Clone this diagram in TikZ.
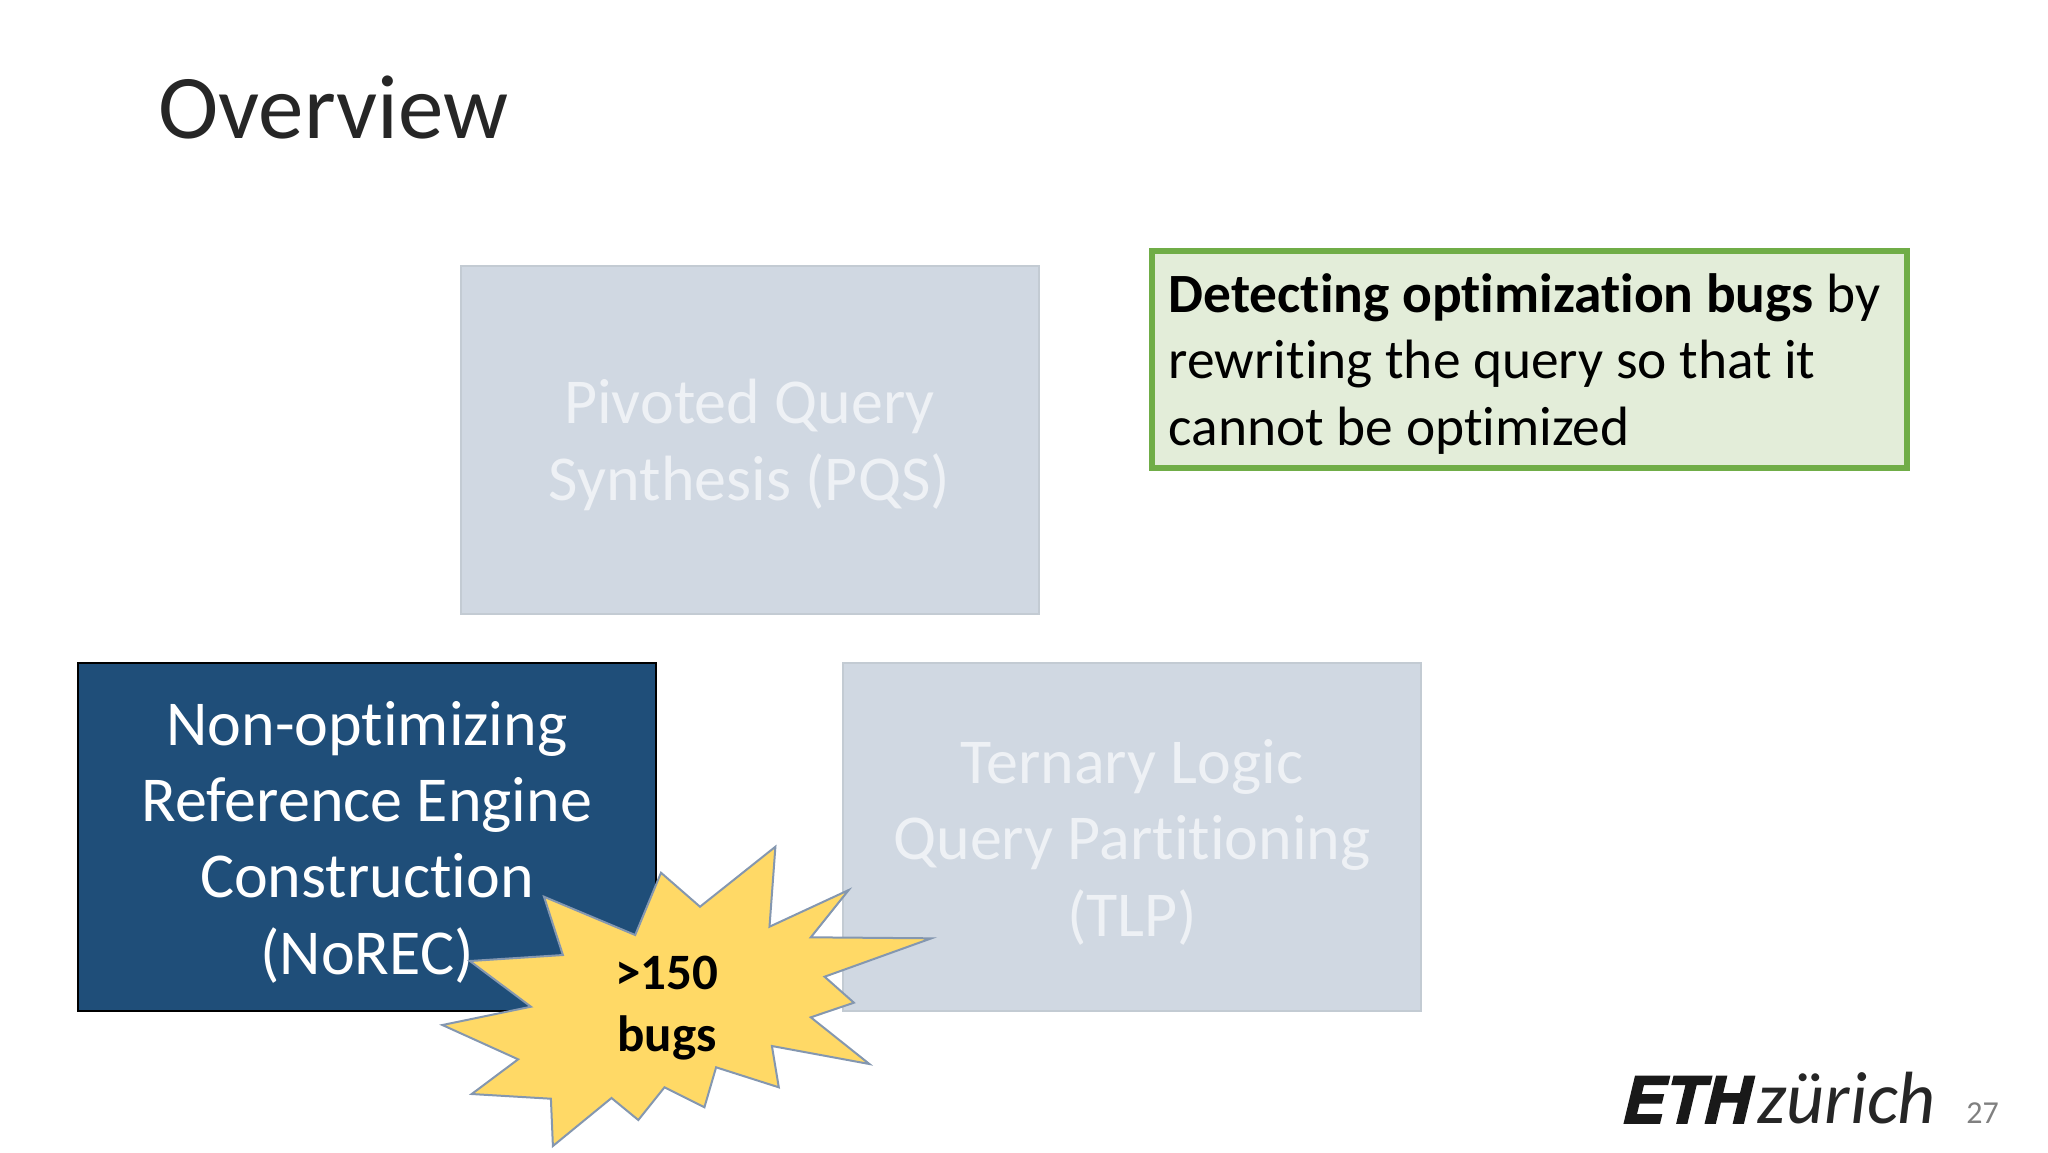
\documentclass[tikz,border=0pt]{standalone}
\usepackage{fontspec}
\setmainfont[Ligatures=NoCommon]{Carlito}
\newfontfamily\logobold[BoldFeatures={FakeBold=2.5,FakeSlant=0.24}]{TeX Gyre Heros}
\definecolor{navyfill}{HTML}{1F4E79}
\definecolor{palefill}{HTML}{D0D8E2}
\definecolor{paleline}{HTML}{C3CBD3}
\definecolor{paletext}{HTML}{EEF1F5}
\definecolor{greenfill}{HTML}{E3EDD9}
\definecolor{greenline}{HTML}{70AD47}
\definecolor{starfill}{HTML}{FFD966}
\definecolor{starline}{HTML}{8497B0}
\tikzset{
    method/.style={minimum width=289pt, minimum height=174pt, align=flush center, text width=285pt, inner sep=0pt,
        execute at begin node={\rule{0pt}{27.6pt}},
        font=\fontsize{32}{38.2}\selectfont},
    faded/.style={method, draw=paleline, line width=1pt, fill=palefill, text=paletext},
    active/.style={method, draw=black, line width=1pt, fill=navyfill, text=white}
}
\begin{document}
\begin{tikzpicture}[x=0.5pt, y=-0.5pt]
    \useasboundingbox (0,0) rectangle (2048,1152);

    % Title
    \node[anchor=base west, inner sep=0pt, text=black!85, font=\fontsize{45.5}{56}\selectfont] (title) at (158,138) {Overview};

    % Method boxes
    \node[faded] (pqs) at (749.5,439.5) {Pivoted Query\\Synthesis (PQS)};
    \node[active] (norec) at (367,836.5) {Non-optimizing\\Reference Engine\\Construction\\(NoREC)};
    \node[faded] (tlp) at (1132,836.5) {Ternary Logic\\Query Partitioning\\(TLP)};

    % Green remark
    \node[draw=greenline, line width=3pt, fill=greenfill, minimum width=377.5pt, minimum height=108.5pt,
        inner sep=0pt, align=flush left, text width=360.6pt, execute at begin node={\rule{0pt}{23.9pt}},
        font=\fontsize{27.7}{33.3}\selectfont] (remark) at (1529.5,359.5)
        {\textbf{Detecting optimization bugs} by\\rewriting the query so that it\\cannot be optimized};

    % Burst over the boxes
    \draw[draw=starline, line width=1pt, fill=starfill] (775.4,846.7) -- (769.5,926.7) -- (848.7,890)
        -- (810.8,937.3) -- (931.4,938.3) -- (824.6,976.7) -- (853.9,1002.7) -- (810.8,1017.3)
        -- (869.4,1064) -- (771.9,1046) -- (778.8,1087.3) -- (716.1,1067.3) -- (704.4,1107.3)
        -- (664.5,1087.3) -- (638.3,1120) -- (611.5,1098) -- (552.9,1146) -- (550.9,1098.7)
        -- (471.7,1094) -- (518.1,1059.3) -- (442.4,1025) -- (530.9,1006.7) -- (469.9,961)
        -- (562.9,955) -- (544,896.7) -- (635.2,935) -- (661,872.7) -- (700,906.7) -- cycle;
    \node[align=center, inner sep=0pt, font=\fontsize{25.5}{31.3}\selectfont\bfseries] (count) at (667,1008) {>150\\bugs};

    % Logo and page number
    \node[anchor=base west, inner sep=0pt, text=black!90, font=\logobold\bfseries\fontsize{32}{32}\selectfont] (eth) at (1619,1123) {ETH};
    \node[anchor=base west, inner sep=0pt, text=black!85, font=\itshape\fontsize{37}{37}\selectfont] (zurich) at (1757,1123) {zürich};
    \node[anchor=base west, inner sep=0pt, text=black!50, font=\fontsize{16}{16}\selectfont] (page) at (1966,1123) {27};
\end{tikzpicture}
\end{document}
